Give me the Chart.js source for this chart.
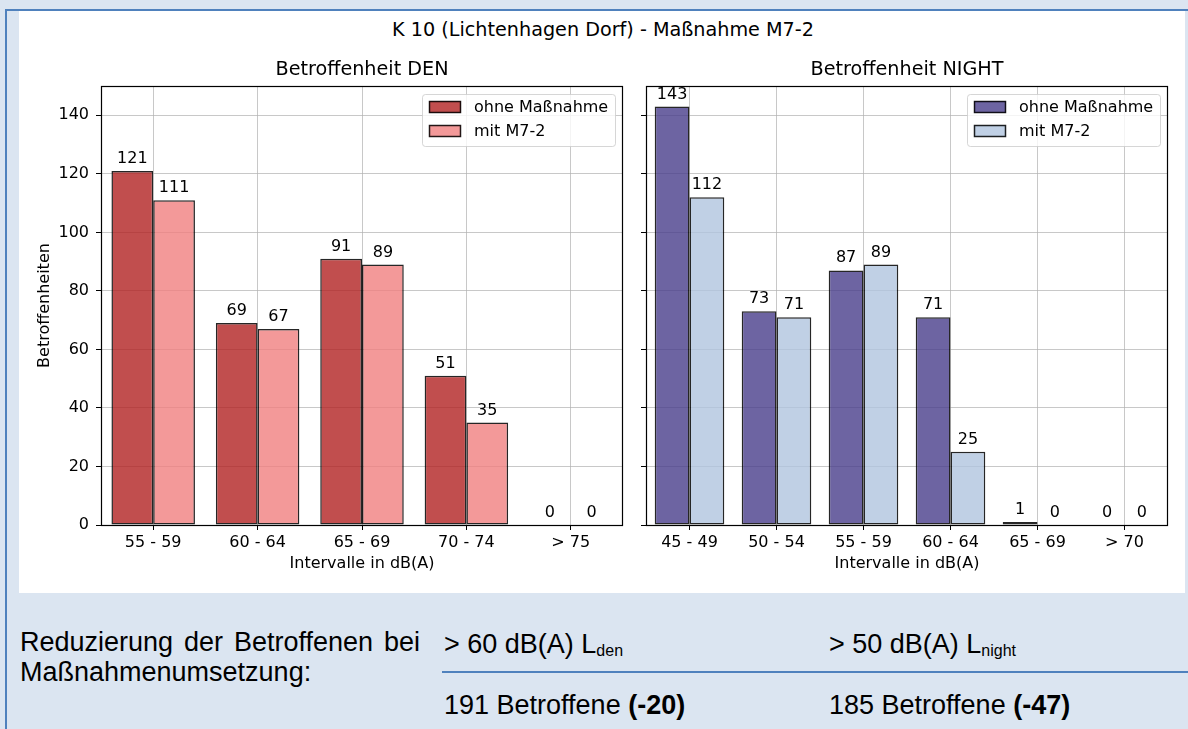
<!DOCTYPE html>
<html>
<head>
<meta charset="utf-8">
<script src="https://cdn.jsdelivr.net/npm/chart.js@4/dist/chart.umd.min.js"></script>
<style>
  body { margin: 0; width: 1188px; height: 729px; background: #dbe5f1; position: relative; overflow: hidden; font-family: "DejaVu Sans"; }
  .line { position: absolute; background: #4f81bd; }
  #panel { position: absolute; left: 19px; top: 11px; width: 1166px; height: 582px; background: #fff; }
  #suptitle { position: absolute; left: 0; width: 1206px; top: 18px; text-align: center; font-size: 19.2px; line-height: 23px; color: #000; }
  .chartbox { position: absolute; top: 11px; height: 582px; }
  .txt { position: absolute; font-family: "Liberation Sans", Arial, sans-serif; font-size: 27px; line-height: 30px; color: #000; }
  #reduz { left: 20px; top: 627px; width: 400px; text-align: justify; }
  sub { font-size: 16px; vertical-align: -3px; line-height: 0; }
</style>
</head>
<body>
<div class="line" style="left:5px;top:9px;width:1183px;height:2px"></div>
<div class="line" style="left:5px;top:9px;width:2px;height:720px"></div>
<div id="panel"></div>
<div id="suptitle">K 10 (Lichtenhagen Dorf) - Maßnahme M7-2</div>
<div class="chartbox" style="left:19px;width:615px"><canvas id="denChart" width="615" height="582"></canvas></div>
<div class="chartbox" style="left:634px;width:551px"><canvas id="nightChart" width="551" height="582"></canvas></div>

<div class="txt" id="reduz">Reduzierung der Betroffenen bei Maßnahmenumsetzung:</div>
<div class="txt" style="left:444px;top:629px">&gt; 60 dB(A) L<sub>den</sub></div>
<div class="txt" style="left:829px;top:629px">&gt; 50 dB(A) L<sub>night</sub></div>
<div class="line" style="left:442px;top:671px;width:746px;height:2px"></div>
<div class="txt" style="left:444px;top:690px">191 Betroffene <b>(-20)</b></div>
<div class="txt" style="left:829px;top:690px">185 Betroffene <b>(-47)</b></div>

<script>
// data
const denLabels = ["55 - 59", "60 - 64", "65 - 69", "70 - 74", "> 75"];
const denOhne = [121, 69, 91, 51, 0];
const denMit = [111, 67, 89, 35, 0];

const nightLabels = ["45 - 49", "50 - 54", "55 - 59", "60 - 64", "65 - 69", "> 70"];
const nightOhne = [143, 73, 87, 71, 1, 0];
const nightMit = [112, 71, 89, 25, 0, 0];

const yTicks = [0, 20, 40, 60, 80, 100, 120, 140];

const font16 = { family: "DejaVu Sans", size: 16 };
const gridColor = "rgba(176, 176, 176, 0.7)";

// value labels on top of bars + black frame round the axes
const barLabels = {
  id: "barLabels",
  afterDatasetsDraw(chart) {
    const ctx = chart.ctx;
    const a = chart.chartArea;
    ctx.save();
    ctx.strokeStyle = "#000";
    ctx.lineWidth = 1.2;
    ctx.strokeRect(Math.round(a.left) + 0.5, Math.round(a.top) + 0.5,
      Math.round(a.right) - Math.round(a.left) - 1, Math.round(a.bottom) - Math.round(a.top));
    ctx.font = '16px "DejaVu Sans"';
    ctx.fillStyle = "#000";
    ctx.textAlign = "center";
    ctx.textBaseline = "alphabetic";
    chart.data.datasets.forEach((ds, i) => {
      chart.getDatasetMeta(i).data.forEach((bar, j) => {
        ctx.fillText(String(ds.data[j]), bar.x, bar.y - 8);
      });
    });
    ctx.restore();
  },
};

// matplotlib style legend inside the upper right corner
const innerLegend = {
  id: "innerLegend",
  afterDraw(chart) {
    const ctx = chart.ctx;
    const a = chart.chartArea;
    const items = chart.data.datasets;
    ctx.save();
    ctx.font = '16px "DejaVu Sans"';
    const tw = Math.max(...items.map((d) => ctx.measureText(d.label).width));
    const w = Math.round(7 + 32 + 13 + tw + 7);
    const h = 52;
    const x = Math.round(a.right) - 8 - w;
    const y = Math.round(a.top) + 8;
    ctx.fillStyle = "rgba(255,255,255,0.8)";
    ctx.strokeStyle = "rgba(204,204,204,0.8)";
    ctx.lineWidth = 1;
    ctx.beginPath();
    ctx.roundRect(x + 0.5, y + 0.5, w, h, 3);
    ctx.fill();
    ctx.stroke();
    items.forEach((d, i) => {
      const cy = y + 13 + i * 24;
      ctx.fillStyle = d.backgroundColor;
      ctx.fillRect(x + 7, cy - 6, 32, 12);
      ctx.strokeStyle = d.borderColor;
      ctx.lineWidth = 1.5;
      ctx.strokeRect(x + 7.5, cy - 5.5, 31, 11);
      ctx.fillStyle = "#000";
      ctx.textAlign = "left";
      ctx.textBaseline = "middle";
      ctx.fillText(d.label, x + 52, cy + 1);
    });
    ctx.restore();
  },
};

function makeChart(id, labels, ohne, mit, colOhne, colMit, title, showY, yWidth, padRight) {
  return new Chart(document.getElementById(id), {
    type: "bar",
    data: {
      labels: labels,
      datasets: [
        {
          label: "ohne Maßnahme",
          data: ohne,
          backgroundColor: colOhne,
          borderColor: "rgba(0,0,0,0.85)",
          borderWidth: 1.5,
          borderSkipped: false,
          categoryPercentage: 0.8,
          barPercentage: 1.0,
        },
        {
          label: "mit M7-2",
          data: mit,
          backgroundColor: colMit,
          borderColor: "rgba(0,0,0,0.85)",
          borderWidth: 1.5,
          borderSkipped: false,
          categoryPercentage: 0.8,
          barPercentage: 1.0,
        },
      ],
    },
    options: {
      responsive: false,
      animation: false,
      layout: { padding: { left: 0, right: padRight, top: 0, bottom: 0 } },
      plugins: {
        legend: { display: false },
        tooltip: { enabled: false },
        title: {
          display: true,
          text: title,
          fullSize: false,
          color: "#000",
          font: { family: "DejaVu Sans", size: 19.2, weight: "normal" },
          padding: { top: 47, bottom: 5 },
        },
      },
      scales: {
        x: {
          afterFit: (s) => { s.height = 68; },
          grid: { offset: false, color: gridColor, tickColor: "#000", tickLength: 5 },
          border: { display: false },
          ticks: { color: "#000", font: font16, padding: 3, autoSkip: false, maxRotation: 0 },
          title: {
            display: true,
            text: "Intervalle in dB(A)",
            color: "#000",
            font: font16,
            padding: { top: 0, bottom: 20 },
          },
        },
        y: {
          min: 0,
          max: 150,
          afterFit: (s) => { s.width = yWidth; },
          afterBuildTicks: (s) => { s.ticks = yTicks.map((v) => ({ value: v })); },
          grid: { color: gridColor, tickColor: "#000", tickLength: 5 },
          border: { display: false },
          ticks: {
            color: "#000",
            font: font16,
            padding: 7,
            callback: (v) => (showY ? v : ""),
          },
          title: {
            display: showY,
            text: "Betroffenheiten",
            color: "#000",
            font: font16,
            padding: { top: 16, bottom: 0 },
          },
        },
      },
    },
    plugins: [barLabels, innerLegend],
  });
}

makeChart("denChart", denLabels, denOhne, denMit,
  "rgba(178,34,34,0.8)", "rgba(240,128,128,0.8)", "Betroffenheit DEN", true, 82, 11);
makeChart("nightChart", nightLabels, nightOhne, nightMit,
  "rgba(72,61,139,0.8)", "rgba(176,196,222,0.8)", "Betroffenheit NIGHT", false, 12, 17);
</script>
</body>
</html>
